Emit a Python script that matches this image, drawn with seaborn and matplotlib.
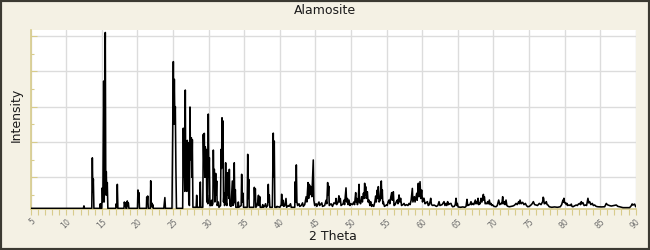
import matplotlib
matplotlib.use("Agg")
import matplotlib.pyplot as plt
from matplotlib.patches import Rectangle
from matplotlib.ticker import MultipleLocator, FixedLocator, NullFormatter
import seaborn as sns
import pandas as pd

# ---- data: (2theta, intensity) vertices ----
seg_05_25 = [
    (5.0, 24), (12.40, 24), (12.48, 38), (12.56, 24),
    (13.58, 24), (13.66, 310), (13.73, 120), (13.80, 190), (13.88, 24),
    (14.72, 24), (14.78, 50), (14.84, 24),
    (14.98, 24), (15.06, 140), (15.14, 60), (15.25, 745), (15.33, 60),
    (15.48, 1020), (15.55, 100), (15.62, 232), (15.69, 100), (15.76, 170), (15.84, 24),
    (16.95, 24), (17.02, 50), (17.10, 30), (17.17, 160), (17.25, 24),
    (18.10, 24), (18.16, 60), (18.24, 40), (18.30, 55), (18.38, 24),
    (18.50, 24), (18.57, 66), (18.64, 40), (18.72, 55), (18.80, 24),
    (20.00, 24), (20.07, 128), (20.14, 60), (20.20, 113), (20.28, 24),
    (21.25, 24), (21.30, 88), (21.37, 60), (21.44, 94), (21.52, 24),
    (21.80, 24), (21.86, 180), (21.93, 40), (22.00, 55), (22.07, 30), (22.15, 45), (22.22, 24),
    (23.70, 24), (23.78, 60), (23.85, 85), (23.93, 24),
    (24.85, 24), (24.92, 340), (25.04, 855), (25.11, 500), (25.18, 755),
    (25.25, 520), (25.32, 600), (25.40, 250), (25.48, 24),
]
seg_25_37 = [
    (26.35, 24), (26.44, 478), (26.51, 200), (26.58, 292), (26.65, 120), (26.72, 694),
    (26.79, 150), (26.86, 245), (26.93, 120), (27.00, 409), (27.07, 200), (27.14, 396),
    (27.21, 60), (27.30, 40), (27.38, 598), (27.45, 300), (27.57, 424), (27.64, 200),
    (27.71, 413), (27.79, 30),
    (28.25, 30), (28.32, 98), (28.39, 30), (28.75, 30), (28.83, 173), (28.90, 30),
    (29.18, 30), (29.25, 443), (29.32, 300), (29.39, 449), (29.46, 200), (29.53, 373),
    (29.60, 200), (29.67, 358), (29.74, 60), (29.81, 100), (29.88, 50), (29.95, 558),
    (30.02, 200), (30.10, 311), (30.18, 40), (30.35, 40), (30.42, 70), (30.50, 40),
    (30.59, 50), (30.66, 354), (30.73, 150), (30.80, 245), (30.87, 60), (30.99, 222),
    (31.06, 100), (31.13, 179), (31.20, 40), (31.36, 60), (31.45, 30), (31.67, 40),
    (31.74, 358), (31.81, 250), (31.88, 537), (31.95, 300), (32.02, 519), (32.09, 60),
    (32.16, 110), (32.23, 40), (32.32, 50), (32.39, 282), (32.46, 60), (32.56, 40),
    (32.63, 226), (32.70, 100), (32.77, 198), (32.84, 80), (32.91, 245), (32.98, 40),
    (33.15, 35), (33.33, 179), (33.40, 40), (33.53, 50), (33.60, 282), (33.67, 60),
    (33.75, 130), (33.82, 30), (34.10, 30), (34.17, 60), (34.24, 30), (34.57, 40),
    (34.64, 217), (34.71, 60), (34.83, 110), (34.90, 30), (35.42, 30), (35.49, 330),
    (35.56, 80), (35.63, 189), (35.70, 30), (36.35, 30), (36.42, 143), (36.49, 80),
    (36.56, 135), (36.63, 30), (36.80, 40), (36.90, 60), (37.00, 98), (37.07, 40),
    (37.18, 90), (37.25, 30),
]
seg_37_49 = [
    (37.50, 30), (37.60, 45), (37.70, 30), (37.85, 35), (38.00, 50), (38.10, 30),
    (38.30, 40), (38.38, 160), (38.45, 60), (38.52, 100), (38.60, 30), (38.95, 30),
    (39.08, 450), (39.15, 200), (39.22, 405), (39.30, 30), (39.55, 30), (39.60, 35),
    (40.00, 30), (40.20, 45), (40.26, 104), (40.33, 40), (40.45, 70), (40.55, 35),
    (40.70, 40), (40.87, 80), (40.95, 30), (41.20, 40), (41.30, 35), (41.50, 50),
    (41.60, 30), (42.10, 30), (42.17, 175), (42.24, 60), (42.32, 270), (42.40, 60),
    (42.50, 40), (42.70, 50), (42.80, 35), (43.00, 40), (43.20, 55), (43.30, 35),
    (43.50, 45), (43.70, 90), (43.80, 60), (43.96, 170), (44.05, 80), (44.14, 160),
    (44.20, 100), (44.30, 150), (44.42, 130), (44.50, 90), (44.70, 298), (44.78, 70),
    (44.90, 40), (45.10, 50), (45.20, 35), (45.50, 60), (45.60, 40), (45.90, 55),
    (46.00, 35), (46.30, 40), (46.50, 70), (46.60, 50), (46.72, 170), (46.80, 100),
    (46.87, 150), (46.95, 40), (47.20, 50), (47.40, 35), (47.60, 55), (47.80, 50),
    (47.90, 80), (48.00, 45), (48.20, 60), (48.30, 95), (48.40, 60), (48.50, 80),
    (48.60, 40),
]
seg_49_62 = [
    (48.90, 50), (49.00, 70), (49.10, 45), (49.30, 140), (49.38, 60), (49.50, 80),
    (49.60, 45), (49.72, 71), (49.85, 40), (50.00, 50), (50.20, 45), (50.40, 60),
    (50.50, 45), (50.66, 113), (50.72, 60), (50.80, 80), (50.90, 45), (51.00, 60),
    (51.13, 160), (51.20, 60), (51.35, 50), (51.50, 90), (51.60, 60), (51.75, 110),
    (51.85, 80), (51.92, 166), (52.00, 100), (52.06, 147), (52.15, 80), (52.30, 118),
    (52.40, 60), (52.53, 71), (52.65, 40), (52.76, 62), (52.90, 35), (53.00, 45),
    (53.20, 35), (53.35, 60), (53.47, 94), (53.55, 60), (53.70, 128), (53.78, 80),
    (53.84, 147), (53.95, 60), (54.10, 70), (54.26, 179), (54.33, 80), (54.40, 128),
    (54.47, 50), (54.54, 62), (54.70, 35), (54.97, 43), (55.10, 40), (55.20, 60),
    (55.34, 71), (55.45, 50), (55.60, 90), (55.72, 113), (55.80, 70), (55.95, 118),
    (56.05, 40), (56.20, 45), (56.35, 60), (56.51, 71), (56.60, 50), (56.75, 100),
    (56.85, 60), (56.98, 81), (57.10, 40), (57.30, 45), (57.45, 52), (57.60, 40),
    (57.80, 45), (58.00, 40), (58.15, 52), (58.30, 45), (58.45, 70), (58.62, 137),
    (58.70, 60), (58.90, 90), (59.00, 60), (59.23, 109), (59.30, 70), (59.46, 166),
    (59.55, 90), (59.70, 175), (59.80, 80), (59.93, 128), (60.05, 60), (60.15, 80),
    (60.26, 81), (60.40, 50), (60.55, 55), (60.73, 62), (60.85, 40), (60.96, 43),
    (61.10, 60), (61.20, 81), (61.30, 45), (61.50, 40), (61.66, 43), (61.80, 40),
    (62.00, 35),
]
seg_62_77 = [
    (62.20, 40), (62.37, 62), (62.50, 40), (62.80, 45), (63.07, 62), (63.20, 40),
    (63.35, 52), (63.45, 40), (63.58, 62), (63.70, 45), (63.85, 50), (64.05, 52),
    (64.15, 40), (64.29, 33), (64.50, 35), (64.65, 45), (64.76, 81), (64.85, 40),
    (64.94, 52), (65.05, 32), (65.40, 30), (65.70, 32), (66.00, 30), (66.16, 35),
    (66.30, 75), (66.40, 40), (66.53, 43), (66.70, 45), (66.86, 62), (66.95, 45),
    (67.10, 52), (67.25, 45), (67.47, 71), (67.55, 50), (67.66, 62), (67.75, 50),
    (67.85, 81), (67.95, 45), (68.03, 52), (68.15, 50), (68.27, 81), (68.40, 60),
    (68.60, 103), (68.67, 70), (68.74, 90), (68.85, 50), (68.97, 52), (69.10, 50),
    (69.20, 62), (69.30, 50), (69.44, 71), (69.55, 45), (69.67, 52), (69.80, 40),
    (69.91, 43), (70.10, 35), (70.38, 33), (70.55, 40), (70.75, 71), (70.90, 45),
    (71.08, 52), (71.20, 50), (71.31, 90), (71.40, 50), (71.55, 62), (71.65, 45),
    (71.78, 71), (71.90, 40), (72.05, 35), (72.25, 33), (72.50, 35), (72.72, 37),
    (72.90, 40), (73.05, 45), (73.19, 52), (73.35, 45), (73.56, 62), (73.65, 50),
    (73.75, 71), (73.90, 50), (74.12, 58), (74.30, 45), (74.50, 52), (74.65, 40),
    (74.83, 33), (75.05, 35), (75.29, 43), (75.45, 50), (75.62, 62), (75.80, 45),
    (76.00, 43), (76.20, 40), (76.46, 52), (76.70, 45), (76.93, 62), (77.00, 87),
    (77.07, 81), (77.15, 50), (77.31, 52),
]
seg_77_90 = [
    (77.44, 62), (77.55, 45), (77.67, 43), (77.85, 33), (78.20, 30), (78.60, 32),
    (79.00, 30), (79.40, 33), (79.60, 45), (79.78, 71), (79.85, 60), (79.92, 81),
    (80.00, 55), (80.15, 56), (80.25, 45), (80.34, 52), (80.45, 40), (80.62, 43),
    (80.80, 40), (80.95, 48), (81.05, 35), (81.19, 33), (81.40, 38), (81.65, 43),
    (81.80, 40), (81.95, 48), (82.12, 52), (82.25, 45), (82.36, 62), (82.45, 50),
    (82.59, 56), (82.75, 40), (82.97, 43), (83.10, 40), (83.20, 60), (83.29, 81),
    (83.40, 55), (83.53, 62), (83.70, 45), (83.90, 52), (84.05, 40), (84.23, 43),
    (84.45, 35), (84.70, 33), (85.20, 32), (85.64, 33), (85.87, 52), (86.00, 45),
    (86.10, 43), (86.30, 40), (86.57, 37), (86.90, 40), (87.27, 43), (87.50, 35),
    (87.74, 33), (88.21, 28), (88.70, 28), (89.15, 28), (89.40, 40), (89.50, 49),
    (89.62, 43), (89.85, 48), (90.00, 33),
]

x_ticks = list(range(5, 91, 5))
title_text = "Alamosite"
x_label = "2 Theta"
y_label = "Intensity"

# ---- build table ----
pts = seg_05_25 + seg_25_37 + seg_37_49 + seg_49_62 + seg_62_77 + seg_77_90
df = pd.DataFrame(pts, columns=["two_theta", "intensity"])

bg = "#F4F1E4"
tan = "#D8CC8C"
grid_c = "#DCDCDC"

sns.set_theme(style="white")
plt.rcParams["font.family"] = ["DejaVu Sans"]

fig = plt.figure(figsize=(6.5, 2.5), dpi=100, facecolor=bg)
ax = fig.add_axes([30.7 / 650, 41.3 / 250, 605 / 650, 178.7 / 250])
ax.set_facecolor("white")

sns.lineplot(data=df, x="two_theta", y="intensity", ax=ax, color="black",
             linewidth=1.15, estimator=None, sort=False, zorder=3)

ax.set_xlim(5, 90)
ax.set_ylim(22, 1034)

ax.xaxis.set_major_locator(FixedLocator(x_ticks))
ax.xaxis.set_minor_locator(MultipleLocator(1))
ax.yaxis.set_major_locator(FixedLocator([200, 400, 600, 800, 1000]))
ax.yaxis.set_minor_locator(FixedLocator([100, 300, 500, 700, 900]))
ax.yaxis.set_major_formatter(NullFormatter())

ax.set_xticklabels([str(t) for t in x_ticks], rotation=45, ha="right",
                   rotation_mode="anchor", fontsize=5.6, color="#6E6E6E")

ax.tick_params(axis="x", which="both", direction="out", length=4, width=0.8,
               color=tan, pad=2, bottom=True)
ax.tick_params(axis="y", which="major", direction="in", length=4, width=0.8,
               color=tan, left=True)
ax.tick_params(axis="y", which="minor", direction="in", length=2.5, width=0.8,
               color=tan, left=True)

ax.grid(True, which="major", color=grid_c, linewidth=1.0)
ax.set_axisbelow(True)

for s in ["top", "right"]:
    ax.spines[s].set_visible(False)
for s in ["left", "bottom"]:
    ax.spines[s].set_color(tan)
    ax.spines[s].set_linewidth(1.2)

ax.set_xlabel("")
ax.set_ylabel("")
fig.text(0.5, 0.958, title_text, ha="center", va="center", fontsize=9, color="#1A1A1A")
fig.text(333 / 650, 14 / 250, x_label, ha="center", va="center", fontsize=9, color="#1A1A1A")
fig.text(16 / 650, 1 - 115 / 250, y_label, ha="center", va="center", rotation=90,
         fontsize=9, color="#1A1A1A")

fig.add_artist(Rectangle((0, 0), 1, 1, transform=fig.transFigure, fill=False,
                         edgecolor="#3B3A32", linewidth=3))

fig.savefig("out.png", dpi=100, facecolor=bg)
